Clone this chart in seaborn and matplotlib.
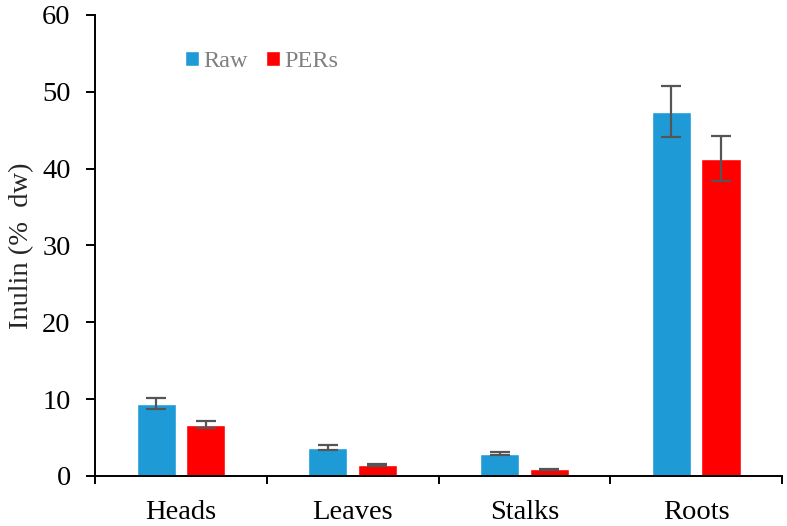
import pandas as pd
import seaborn as sns
import matplotlib.pyplot as plt

# values
parts = ["Heads", "Leaves", "Stalks", "Roots"]
raw = [9.4, 3.7, 2.9, 47.4]
raw_err = [0.7, 0.3, 0.2, 3.3]
pers = [6.7, 1.45, 0.85, 41.3]
pers_err = [0.5, 0.15, 0.1, 2.9]

df = pd.DataFrame({
    "Part": parts * 2,
    "Sample": ["Raw"] * 4 + ["PERs"] * 4,
    "Inulin": raw + pers,
})

sns.set_theme(style="ticks")
plt.rcParams['font.family'] = ['Liberation Serif', 'DejaVu Serif']

fig = plt.figure(figsize=(7.87, 5.26), dpi=100)
ax = fig.add_axes([0.1207, 0.0951, 0.873, 0.8764])

sns.barplot(data=df, x="Part", y="Inulin", hue="Sample",
            palette={"Raw": "#1E9BD7", "PERs": "#FF0000"},
            width=0.577, gap=0.21, saturation=1, ax=ax)

#error bars on top of each bar
for cont, errs in zip(ax.containers, [raw_err, pers_err]):
    for bar, e in zip(cont, errs):
        x = bar.get_x() + bar.get_width() / 2
        ax.errorbar(x, bar.get_height(), yerr=e, fmt="none",
                    ecolor="#555555", elinewidth=1.6, capsize=7.5, capthick=1.6)

ax.set_ylim(0, 60)
ax.set_yticks(range(0, 61, 10))
ax.set_xlim(-0.5, 3.5)
ax.set_xticks([-0.5, 0.5, 1.5, 2.5, 3.5], minor=True)
ax.tick_params(axis="x", which="major", length=0, labelsize=20.5, pad=17, colors="black")
ax.tick_params(axis="x", which="minor", length=5.5, width=1.4, color="black")
ax.tick_params(axis="y", length=6.5, width=1.4, labelsize=20.5, pad=11, colors="black")
ax.set_xlabel("")
ax.set_ylabel("Inulin (%  dw)", fontsize=20.5, labelpad=6)
for s in ["top", "right"]:
    ax.spines[s].set_visible(False)
for s in ["left", "bottom"]:
    ax.spines[s].set_linewidth(1.4)
    ax.spines[s].set_color("black")

leg = ax.legend(loc="center", bbox_to_anchor=(0.243, 0.899), ncol=2, frameon=False,
                fontsize=17.5, handlelength=0.55, handleheight=0.55, handletextpad=0.2,
                columnspacing=0.76)
for t in leg.get_texts():
    t.set_color("#808080")

fig.savefig("out.png", dpi=100)
